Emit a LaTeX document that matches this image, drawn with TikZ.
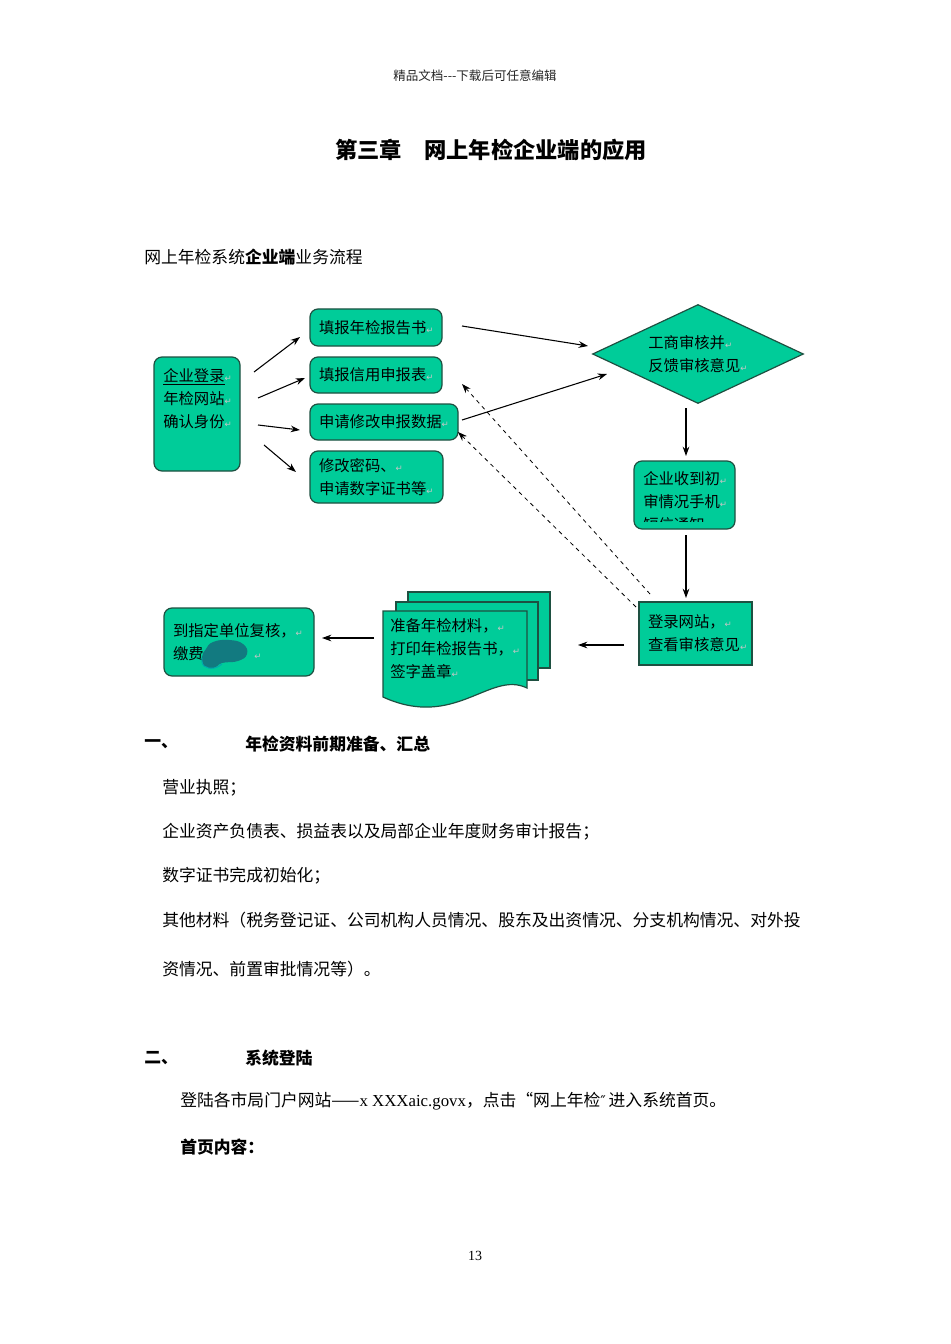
\documentclass[tikz,border=0pt]{standalone}
\usepackage{fontspec}
\setmainfont{Noto Sans CJK SC}
\newfontfamily\latinserif{Liberation Serif}
\newfontfamily\markfont{DejaVu Sans}
\usetikzlibrary{shapes.geometric,arrows.meta}
\definecolor{boxgreen}{RGB}{0,204,153}
\definecolor{boxline}{RGB}{30,80,65}
\definecolor{blobteal}{RGB}{18,122,128}
\newcommand\pmark{{\markfont\color{gray!45}\fontsize{6.5}{6.5}\selectfont↵}}
\newcommand\diagfont{\fontsize{11.5}{17.25}\selectfont}
\newcommand\bodyfont{\fontsize{12.6}{15}\selectfont}
\tikzset{
  flowbox/.style={draw=boxline,fill=boxgreen,line width=0.9pt,rounded corners=6pt,
    align=left,font=\diagfont,inner xsep=6.75pt,inner ysep=0pt},
  boxtext/.style={anchor=west,align=left,inner sep=0pt,font=\diagfont},
  docsheet/.style={draw=boxline,fill=boxgreen,line width=0.9pt},
  link/.style={->,line width=0.8pt},
  backlink/.style={->,dashed,line width=0.6pt},
  bodyline/.style={anchor=west,inner sep=0pt,font=\bodyfont},
}
\begin{document}
\begin{tikzpicture}[x=0.75pt,y=-0.75pt,>={Stealth[length=7pt,width=5pt]}]
\useasboundingbox (0,0) rectangle (950,1344);
\fill[white] (0,0) rectangle (950,1344);
% page head and title
\node[inner sep=0pt,font=\fontsize{9.4}{11}\selectfont,text=black!85] (head) at (475,76) {精品文档-{}-{}-下载后可任意编辑};
\node[inner sep=0pt,font=\fontsize{16.7}{20}\selectfont\bfseries] (title) at (491,150) {第三章\hspace{1em}网上年检企业端的应用};
\node[bodyline] (flowtitle) at (144,257) {网上年检系统\textbf{企业端}业务流程};

% flow chart
\node[flowbox,minimum width=64.5pt,minimum height=85.5pt] (login) at (197,414) {};
\node[boxtext] (logintext) at (163,398.5) {\underline{企业登录}\pmark\\年检网站\pmark\\确认身份\pmark};
\node[flowbox,text width=85.5pt,minimum height=27.75pt] (report) at (376,327.5) {填报年检报告书\pmark};
\node[flowbox,text width=85.5pt,minimum height=27pt] (credit) at (376,375) {填报信用申报表\pmark};
\node[flowbox,text width=97.5pt,minimum height=27pt] (modify) at (384,422) {申请修改申报数据\pmark};
\node[flowbox,text width=86.25pt,minimum height=39pt] (passwd) at (376.5,477) {修改密码、\pmark\\申请数字证书等\pmark};
\node[diamond,draw=boxline,fill=boxgreen,line width=0.9pt,aspect=2.13,
  minimum width=158.25pt,minimum height=74.25pt,inner sep=0pt,align=left,font=\diagfont]
  (audit) at (698,354) {工商审核并\pmark\\反馈审核意见\pmark};
\node[flowbox,minimum width=75.75pt,minimum height=51pt] (notice) at (684.5,495) {};
\begin{scope}
  \clip (636,463) rectangle (733,521);
  \node[boxtext] (noticetext) at (643,501.5) {企业收到初\pmark\\审情况手机\pmark\\短信通知};
\end{scope}
\node[flowbox,sharp corners,text width=71.25pt,minimum height=47.25pt] (check) at (695.5,633.5) {登录网站，\pmark\\查看审核意见\pmark};
% stacked documents
\filldraw[docsheet] (408,592) rectangle (550,668);
\filldraw[docsheet] (396,602) rectangle (538,680);
\filldraw[docsheet] (383,611) -- (527,611) -- (527,688)
  .. controls (490,670) and (455,730) .. (383,697) -- cycle;
\node[boxtext] (prep) at (390,649) {准备年检材料，\pmark\\打印年检报告书，\pmark\\签字盖章\pmark};
\node[flowbox,text width=99pt,minimum height=51pt] (review) at (239,642) {到指定单位复核，\pmark\\缴费\hspace{38pt}\pmark};
\fill[blobteal] plot[smooth cycle,tension=0.8] coordinates
  {(206,649) (213,642) (229,640) (243,644) (247,654) (238,661) (222,663) (214,668) (204,666) (202,657)};
\draw[cyan!60!green,line width=0.7pt] plot[smooth,tension=0.8] coordinates {(202,658) (204,666) (214,668) (222,664)};

% connectors
\coordinate (o1) at (254,372); \coordinate (i1) at (300,337);
\coordinate (o2) at (258,398); \coordinate (i2) at (305,378);
\coordinate (o3) at (258,425); \coordinate (i3) at (300,430);
\coordinate (o4) at (264,445); \coordinate (i4) at (296,472);
\coordinate (r1) at (462,326); \coordinate (a1) at (588,346);
\coordinate (r2) at (462,420); \coordinate (a2) at (607,374);
\coordinate (d1) at (686,408); \coordinate (d2) at (686,456);
\coordinate (d3) at (686,535); \coordinate (d4) at (686,598);
\coordinate (c1) at (624,645); \coordinate (c2) at (578,645);
\coordinate (p1) at (374,638); \coordinate (p2) at (322,638);
\coordinate (b1) at (650,594); \coordinate (b2) at (462,384);
\coordinate (b3) at (636,607); \coordinate (b4) at (458,432);
\draw[link] (o1) -- (i1);
\draw[link] (o2) -- (i2);
\draw[link] (o3) -- (i3);
\draw[link] (o4) -- (i4);
\draw[link] (r1) -- (a1);
\draw[link] (r2) -- (a2);
\draw[link] (d1) -- (d2);
\draw[link] (d3) -- (d4);
\draw[link] (c1) -- (c2);
\draw[link] (p1) -- (p2);
\draw[backlink] (b1) -- (b2);
\draw[backlink] (b3) -- (b4);

% text body
\node[bodyline,font=\bodyfont\bfseries] (sec1num) at (144,744) {一、};
\node[bodyline,font=\bodyfont\bfseries] (sec1) at (245,744) {年检资料前期准备、汇总};
\node[bodyline] (item1) at (162,788) {营业执照；};
\node[bodyline] (item2) at (162,832) {企业资产负债表、损益表以及局部企业年度财务审计报告；};
\node[bodyline] (item3) at (162,876) {数字证书完成初始化；};
\node[bodyline] (item4) at (162,920) {其他材料（税务登记证、公司机构人员情况、股东及出资情况、分支机构情况、对外投};
\node[bodyline] (item4b) at (162,969) {资情况、前置审批情况等）。};
\node[bodyline,font=\bodyfont\bfseries] (sec2num) at (144,1058) {二、};
\node[bodyline,font=\bodyfont\bfseries] (sec2) at (245,1058) {系统登陆};
\node[bodyline] (portal) at (180,1101) {登陆各市局门户网站——{\latinserif x XXXaic.govx}，点击“网上年检{\markfont\fontsize{11}{11}\selectfont ″}\,进入系统首页。};
\node[bodyline,font=\bodyfont\bfseries] (home) at (180,1147) {首页内容：};
\node[inner sep=0pt,font=\latinserif\fontsize{10.5}{12}\selectfont] (pagenum) at (475,1256) {13};
\end{tikzpicture}
\end{document}
